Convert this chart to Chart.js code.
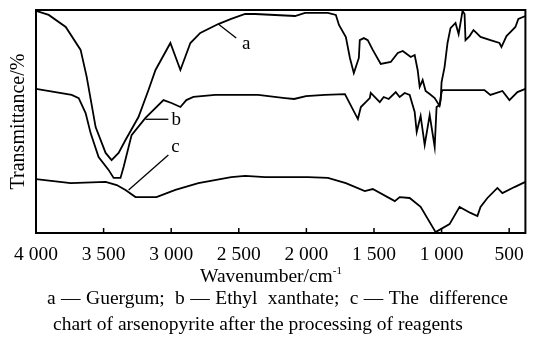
<!DOCTYPE html>
<html>
<head>
<meta charset="utf-8">
<script src="https://cdn.jsdelivr.net/npm/chart.js@4/dist/chart.umd.min.js"></script>
<style>
  html, body { margin: 0; padding: 0; background: #fff; }
  #wrap { width: 534px; height: 344px; }
</style>
</head>
<body>
<div id="wrap"><canvas id="chart"></canvas></div>
<script>
// IR spectra, wavenumber (cm-1) against transmittance (arbitrary %, curves offset)
const xTicks = [4000, 3500, 3000, 2500, 2000, 1500, 1000, 500];

const waveA = [4000, 3906, 3780, 3670, 3625, 3559, 3485, 3441, 3389, 3338, 3242, 3168, 3116, 3006, 2932, 2858,
  2785, 2652, 2556, 2453, 2379, 2084, 2010, 1841, 1782, 1759, 1708, 1678, 1649, 1612, 1605, 1575, 1546, 1509,
  1450, 1376, 1324, 1287, 1228, 1199, 1177, 1162, 1140, 1118, 1088, 1051, 1015, 1007, 1000, 978, 956, 934, 897,
  874, 845, 830, 823, 793, 764, 742, 712, 639, 572, 557, 520, 491, 454, 432, 380];
const transA = [99.6, 97.8, 92.4, 82.1, 70.0, 47.5, 35.9, 32.7, 35.9, 41.7, 52.0, 64.1, 73.1, 85.2, 73.1, 85.2,
  89.7, 93.7, 96.0, 98.2, 98.2, 97.3, 98.7, 98.7, 97.8, 93.3, 87.9, 78.5, 71.7, 78.5, 86.5, 87.4, 86.5, 82.1,
  75.8, 76.7, 80.7, 81.6, 78.9, 79.8, 73.1, 65.5, 68.6, 63.7, 62.3, 60.5, 57.0, 59.6, 67.7, 74.4, 85.2, 91.9, 94.2,
  89.2, 99.6, 98.2, 86.5, 88.3, 91.0, 89.7, 87.9, 86.5, 85.2, 83.4, 88.3, 90.1, 92.4, 96.0, 97.3];

const waveB = [4000, 3736, 3684, 3633, 3596, 3537, 3463, 3426, 3375, 3352, 3293, 3190, 3057, 2998, 2932, 2888,
  2836, 2674, 2357, 2158, 2091, 2003, 1863, 1715, 1619, 1597, 1531, 1524, 1457, 1428, 1391, 1339, 1310, 1273,
  1236, 1199, 1184, 1155, 1125, 1088, 1051, 1037, 1015, 1000, 993, 683, 639, 550, 498, 439, 380];
const transB = [64.6, 61.9, 60.5, 53.8, 44.8, 34.1, 28.3, 24.7, 24.7, 29.6, 43.9, 51.6, 59.6, 58.3, 56.5, 59.6,
  61.0, 61.9, 61.9, 60.5, 60.1, 61.4, 61.9, 62.3, 51.1, 56.5, 60.5, 62.8, 58.7, 61.0, 60.1, 63.2, 61.0, 62.8,
  61.9, 54.3, 45.3, 52.5, 39.5, 52.9, 38.6, 56.5, 57.4, 63.2, 64.1, 64.1, 61.9, 63.7, 59.6, 63.2, 64.6];

const waveC = [4000, 3743, 3485, 3403, 3338, 3264, 3109, 2969, 2799, 2556, 2453, 2305, 1988, 1841, 1708, 1568,
  1509, 1346, 1310, 1236, 1155, 1044, 941, 867, 786, 735, 712, 661, 587, 550, 461, 380];
const transC = [24.2, 22.4, 22.9, 21.5, 19.3, 16.1, 16.1, 19.3, 22.4, 25.1, 25.6, 25.1, 25.1, 24.7, 22.4, 18.8,
  19.7, 14.3, 16.1, 15.7, 11.7, 0.4, 4.0, 11.7, 9.0, 7.6, 11.7, 15.7, 20.2, 17.9, 20.6, 22.9];

const xTitle = 'Wavenumber/cm';
const xTitleSup = '-1';
const caption = [
  'a\u2014Guergum; b\u2014Ethyl xanthate; c\u2014The difference',
  'chart of arsenopyrite after the processing of reagents'
];

// leader lines for the curve letters, in data units
const callouts = [
  { text: 'a', from: [2652, 93.7], to: [2519, 87.4], at: [2445, 84.8] },
  { text: 'b', from: [3190, 51.0], to: [3021, 51.0], at: [2962, 50.7] },
  { text: 'c', from: [3315, 19.3], to: [3021, 35.0], at: [2969, 38.6] },
];

const serif = '"Liberation Serif", "Times New Roman", serif';

const toPoints = (xs, ys) => xs.map((x, i) => ({ x: x, y: ys[i] }));

const series = (pts) => ({
  data: pts,
  borderColor: '#000',
  borderWidth: 1.8,
  pointRadius: 0,
  tension: 0,
  fill: false,
});

// first caption line is justified; the slack goes round words and dashes alike
function fillJustified(ctx, text, left, right, y) {
  const parts = text.split(/(\u2014| )/).filter(p => p !== '');
  const pieces = [];
  let gap = 0;
  parts.forEach(p => {
    if (p === ' ') { gap += ctx.measureText(' ').width; return; }
    pieces.push({ t: p, gap: gap });
    gap = 0;
  });
  const natural = pieces.reduce((s, p, i) => s + ctx.measureText(p.t).width + (i ? p.gap : 0), 0);
  const extra = (right - left - natural) / (pieces.length - 1);
  let cx = left;
  pieces.forEach((p, i) => {
    if (i) cx += p.gap + extra;
    ctx.fillText(p.t, cx, y);
    cx += ctx.measureText(p.t).width;
  });
}

const framePlugin = {
  id: 'frame',
  afterDraw(chart) {
    const { ctx, chartArea: area, scales: { x, y } } = chart;
    ctx.save();
    ctx.strokeStyle = '#000';
    ctx.fillStyle = '#000';

    // axis box
    ctx.lineWidth = 2;
    ctx.strokeRect(area.left, area.top, area.right - area.left, area.bottom - area.top);

    // inward tick marks on the bottom axis
    ctx.lineWidth = 1.5;
    xTicks.forEach(v => {
      const px = x.getPixelForValue(v);
      ctx.beginPath();
      ctx.moveTo(px, area.bottom);
      ctx.lineTo(px, area.bottom - 5);
      ctx.stroke();
    });

    // curve letters
    ctx.lineWidth = 1.3;
    ctx.font = '19px ' + serif;
    ctx.textAlign = 'center';
    ctx.textBaseline = 'middle';
    callouts.forEach(c => {
      ctx.beginPath();
      ctx.moveTo(x.getPixelForValue(c.from[0]), y.getPixelForValue(c.from[1]));
      ctx.lineTo(x.getPixelForValue(c.to[0]), y.getPixelForValue(c.to[1]));
      ctx.stroke();
      ctx.fillText(c.text, x.getPixelForValue(c.at[0]), y.getPixelForValue(c.at[1]));
    });

    // x axis title with superscript unit
    ctx.textAlign = 'left';
    ctx.font = '19.5px ' + serif;
    const mainW = ctx.measureText(xTitle).width;
    ctx.font = '11px ' + serif;
    const supW = ctx.measureText(xTitleSup).width;
    const tx = 271 - (mainW + supW) / 2;
    ctx.font = '19.5px ' + serif;
    ctx.fillText(xTitle, tx, 277);
    ctx.font = '11px ' + serif;
    ctx.fillText(xTitleSup, tx + mainW, 271);

    // caption under the chart
    ctx.font = '19.5px ' + serif;
    fillJustified(ctx, caption[0], 47, 508, 299);
    ctx.fillText(caption[1], 53, 325);
    ctx.restore();
  }
};

new Chart(document.getElementById('chart'), {
  type: 'line',
  data: {
    datasets: [
      series(toPoints(waveA, transA)),
      series(toPoints(waveB, transB)),
      series(toPoints(waveC, transC)),
    ],
  },
  options: {
    responsive: true,
    maintainAspectRatio: false,
    animation: false,
    parsing: false,
    layout: { padding: { top: 10, right: 6, bottom: 0, left: 0 } },
    plugins: {
      legend: { display: false },
      tooltip: { enabled: false },
    },
    scales: {
      x: {
        type: 'linear',
        reverse: true,
        min: 380,
        max: 4000,
        afterBuildTicks: scale => { scale.ticks = xTicks.map(v => ({ value: v })); },
        afterFit: scale => { scale.height = 111; },
        grid: { display: false, drawTicks: false },
        border: { display: false },
        ticks: {
          color: '#000',
          padding: 10,
          maxRotation: 0,
          autoSkip: false,
          font: { family: serif, size: 19.5 },
          callback: v => v >= 1000 ? Math.floor(v / 1000) + ' ' + String(v % 1000).padStart(3, '0') : String(v),
        },
      },
      y: {
        min: 0,
        max: 100,
        afterFit: scale => { scale.width = 36; },
        grid: { display: false, drawTicks: false },
        border: { display: false },
        ticks: { display: false },
        title: {
          display: true,
          text: 'Transmittance/%',
          color: '#000',
          font: { family: serif, size: 20 },
          padding: { top: 7, bottom: 0 },
        },
      },
    },
  },
  plugins: [framePlugin],
});
</script>
</body>
</html>
